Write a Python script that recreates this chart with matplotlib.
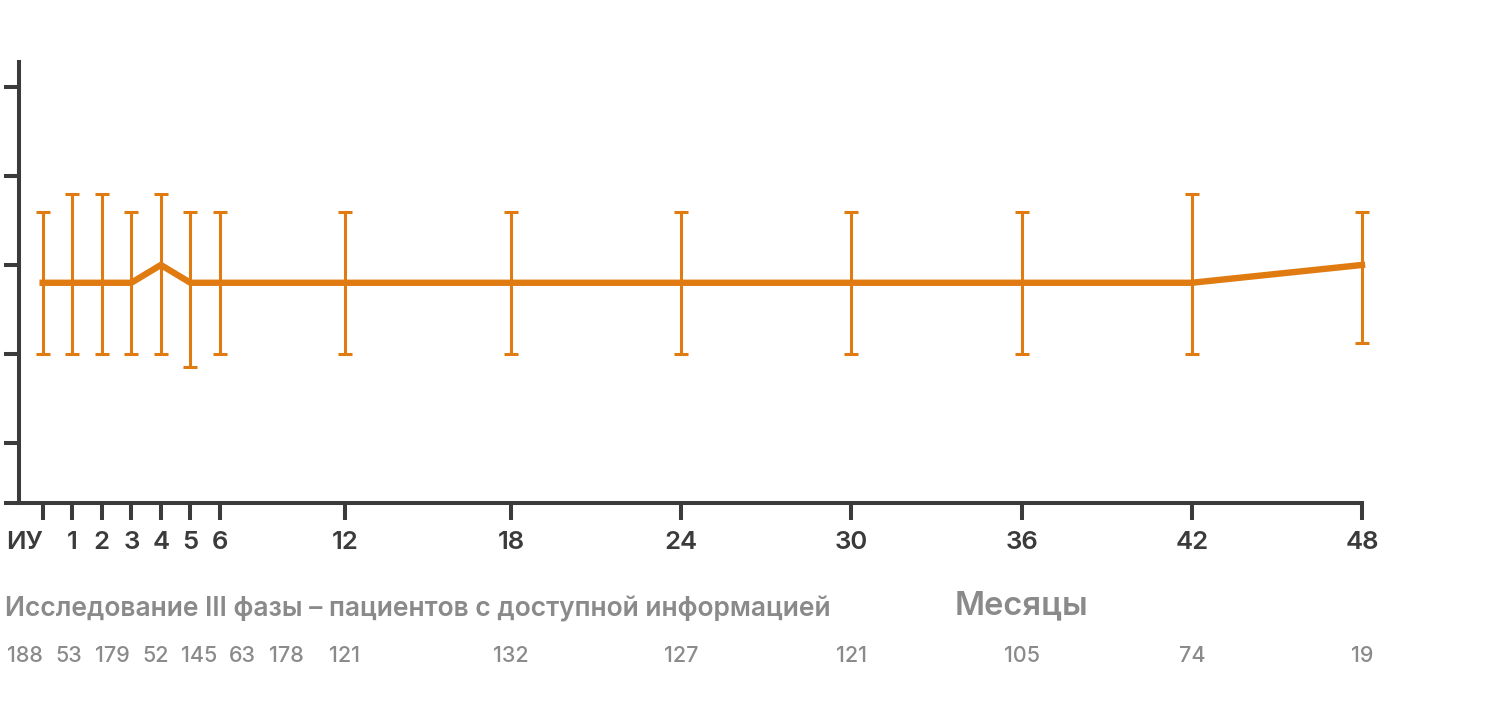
import numpy as np
import matplotlib

matplotlib.use("Agg")
import matplotlib.pyplot as plt
import matplotlib.transforms as mtransforms

# Данные
months = [0, 1, 2, 3, 4, 5, 6, 12, 18, 24, 30, 36, 42, 48]
tick_labels = ["ИУ", "1", "2", "3", "4", "5", "6", "12", "18", "24", "30", "36", "42", "48"]
mean_vals = [2.8, 2.8, 2.8, 2.8, 3.0, 2.8, 2.8, 2.8, 2.8, 2.8, 2.8, 2.8, 2.8, 3.0]
upper_vals = [3.6, 3.8, 3.8, 3.6, 3.8, 3.6, 3.6, 3.6, 3.6, 3.6, 3.6, 3.6, 3.8, 3.6]
lower_vals = [2.0, 2.0, 2.0, 2.0, 2.0, 1.85, 2.0, 2.0, 2.0, 2.0, 2.0, 2.0, 2.0, 2.12]
patients = [188, 53, 179, 52, 145, 63, 178, 121, 132, 127, 121, 105, 74, 19]

ORANGE = "#E07B12"
DARK = "#3b3b3b"
GREY = "#8a8a8a"

plt.rcParams["font.family"] = ["Inter", "Roboto", "DejaVu Sans"]

# Неравномерная шкала времени (сжатый участок 6-12 мес.)
knots_m = np.array([-12.0, 0.0, 6.0, 12.0, 18.0, 48.0])
knots_u = np.array([-355.0, 0.0, 177.3, 302.3, 468.3, 1319.3])


def fwd(x):
    return np.interp(x, knots_m, knots_u)


def inv(u):
    return np.interp(u, knots_u, knots_m)


W, H = 1496, 720
fig = plt.figure(figsize=(W / 100, H / 100), dpi=100)
ax = fig.add_axes([19 / W, (H - 503) / H, (1362 - 19) / W, (503 - 62) / H])
ax.set_xscale("function", functions=(fwd, inv))

mean = np.array(mean_vals)
yerr = [mean - np.array(lower_vals), np.array(upper_vals) - mean]

ax.plot(months, mean, color=ORANGE, linewidth=4.6, solid_joinstyle="miter",
        zorder=3, clip_on=False)
eb = ax.errorbar(months, mean, yerr=yerr, fmt="none", ecolor=ORANGE,
                 elinewidth=2.2, capsize=5, capthick=2.2, zorder=2)
for art in eb.lines[1] + eb.lines[2]:
    art.set_clip_on(False)

ax.set_xlim(-0.8, 48)
ylo, yhi = 0.326, 5.28
ax.set_ylim(ylo, yhi)

ax.set_xticks(months)
ax.set_xticklabels(tick_labels)
ax.set_yticks([ylo, 1, 2, 3, 4, 5])
ax.set_yticklabels([])

for s in ["top", "right"]:
    ax.spines[s].set_visible(False)
for s in ["left", "bottom"]:
    ax.spines[s].set_color(DARK)
    ax.spines[s].set_linewidth(2.9)

ax.tick_params(axis="x", length=12, width=2.9, color=DARK, pad=8,
               labelsize=18.5, labelcolor=DARK)
ax.tick_params(axis="y", length=10.8, width=2.9, color=DARK)
for lbl in ax.get_xticklabels():
    lbl.set_fontweight("semibold")
ax.get_xticklabels()[0].set_horizontalalignment("right")

# Подписи под осью
fig.text(5 / W, 1 - 609 / H, "Исследование III фазы – пациентов с доступной информацией",
         fontsize=19, color=GREY, fontweight="semibold", ha="left", va="center")
fig.text(1021 / W, 1 - 606 / H, "Месяцы", fontsize=23.5, color=GREY,
         fontweight="semibold", ha="center", va="center")

trans = mtransforms.blended_transform_factory(ax.transData, fig.transFigure)
for i, (m, n) in enumerate(zip(months, patients)):
    if i < 7:
        fig.text((25 + 43.5 * i) / W, 1 - 656 / H, str(n), fontsize=15.5,
                 color=GREY, fontweight="medium", ha="center", va="center")
    else:
        ax.text(m, 1 - 656 / H, str(n), transform=trans, fontsize=15.5,
                color=GREY, fontweight="medium", ha="center", va="center",
                clip_on=False)

fig.savefig("out.png", dpi=100)
plt.close(fig)
